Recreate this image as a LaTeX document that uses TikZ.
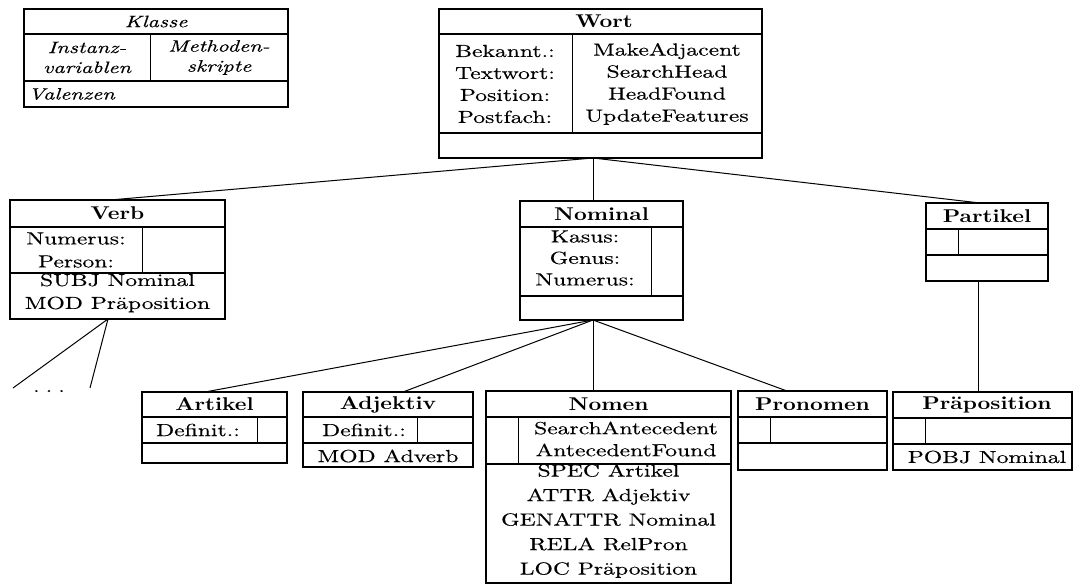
\documentclass[tikz,border=0pt]{standalone}
\usepackage{fontspec}
\setmainfont{lmroman10}[Extension=.otf, UprightFont=*-regular, BoldFont=*-bold, ItalicFont=*-italic, BoldItalicFont=*-bolditalic, FakeStretch=1.35, UprightFeatures={FakeBold=0.3}, ItalicFeatures={FakeBold=0.3}]
\newfontfamily\headfont{lmroman10-bold.otf}[FakeStretch=1.2]
\tikzset{
  box/.style={draw, line width=1.3pt, inner sep=0pt, outer sep=0pt, anchor=north west},
  sepline/.style={line width=1.2pt},
  divline/.style={line width=0.8pt},
  link/.style={line width=1pt},
  txt/.style={align=center, inner sep=0pt, font=\fontsize{17.5}{22}\selectfont},
  head/.style={align=center, inner sep=0pt, font=\fontsize{18.5}{22}\headfont},
  ktxt/.style={align=center, inner sep=0pt, font=\fontsize{16.5}{20}\selectfont\itshape},
}
\begin{document}
\begin{tikzpicture}[x=1pt,y=-1pt]
\useasboundingbox (0,0) rectangle (1074,585);

% ---------- Klasse (legend) ----------
\node[box, minimum width=264pt, minimum height=98pt] (klasse) at (24,9) {};
\draw[sepline] (24,34) -- (288,34) (24,81) -- (288,81);
\draw[divline] (150,34) -- (150,81);
\node[ktxt] (klasseH) at (156,21.5) {Klasse};
\node[ktxt] (klasseL) at (87,57.5) {Instanz-\\variablen};
\node[ktxt] (klasseR) at (219,57.5) {Methoden-\\skripte};
\node[ktxt, anchor=west] (klasseV) at (28,94) {Valenzen};

% ---------- Wort ----------
\node[box, minimum width=323pt, minimum height=149pt] (wort) at (439,9) {};
\draw[sepline] (439,34) -- (762,34) (439,133) -- (762,133);
\draw[divline] (572,34) -- (572,133);
\node[head] (wortH) at (604,21.5) {Wort};
\node[txt] (wortL) at (505,84) {Bekannt.:\\Textwort:\\Position:\\Postfach:};
\node[txt] (wortR) at (667,84) {MakeAdjacent\\SearchHead\\HeadFound\\UpdateFeatures};

% ---------- Verb ----------
\node[box, minimum width=215pt, minimum height=119pt] (verb) at (10,200) {};
\draw[sepline] (10,227) -- (225,227) (10,273) -- (225,273);
\draw[divline] (142,227) -- (142,273);
\node[head] (verbH) at (117.5,213.5) {Verb};
\node[txt, font=\fontsize{17.5}{23}\selectfont] (verbL) at (76,250) {Numerus:\\Person:};
\node[txt, font=\fontsize{17.5}{23}\selectfont] (verbV) at (117.5,293) {SUBJ Nominal\\MOD Präposition};

% ---------- Nominal ----------
\node[box, minimum width=163pt, minimum height=119pt] (nominal) at (520,201) {};
\draw[sepline] (520,227) -- (683,227) (520,296) -- (683,296);
\draw[divline] (651,227) -- (651,296);
\node[head] (nominalH) at (601.5,214) {Nominal};
\node[txt, font=\fontsize{17.5}{21.5}\selectfont] (nominalL) at (585,258) {Kasus:\\Genus:\\Numerus:};

% ---------- Partikel ----------
\node[box, minimum width=122pt, minimum height=78pt] (partikel) at (926,203) {};
\draw[sepline] (926,229) -- (1048,229) (926,255) -- (1048,255);
\draw[divline] (958,229) -- (958,255);
\node[head] (partikelH) at (987,216) {Partikel};

% ---------- Artikel ----------
\node[box, minimum width=145pt, minimum height=71pt] (artikel) at (142,392) {};
\draw[sepline] (142,417) -- (287,417) (142,443) -- (287,443);
\draw[divline] (257,417) -- (257,443);
\node[head] (artikelH) at (214.5,404.5) {Artikel};
\node[txt] (artikelL) at (198,430) {Definit.:};

% ---------- Adjektiv ----------
\node[box, minimum width=170pt, minimum height=75pt] (adjektiv) at (303,392) {};
\draw[sepline] (303,417) -- (473,417) (303,443) -- (473,443);
\draw[divline] (417,417) -- (417,443);
\node[head] (adjektivH) at (388,404.5) {Adjektiv};
\node[txt] (adjektivL) at (364,430) {Definit.:};
\node[txt] (adjektivV) at (388,456) {MOD Adverb};

% ---------- Nomen ----------
\node[box, minimum width=245pt, minimum height=192pt] (nomen) at (486,391) {};
\draw[sepline] (486,417) -- (731,417) (486,464) -- (731,464);
\draw[divline] (518,417) -- (518,464);
\node[head] (nomenH) at (608.5,404) {Nomen};
\node[txt] (nomenR) at (626,439) {SearchAntecedent\\AntecedentFound};
\node[txt, font=\fontsize{17.5}{24.5}\selectfont] (nomenV) at (608.5,521) {SPEC Artikel\\ATTR Adjektiv\\GENATTR Nominal\\RELA RelPron\\LOC Präposition};

% ---------- Pronomen ----------
\node[box, minimum width=149pt, minimum height=79pt] (pronomen) at (738,391) {};
\draw[sepline] (738,417) -- (887,417) (738,443) -- (887,443);
\draw[divline] (770,417) -- (770,443);
\node[head] (pronomenH) at (812.5,404) {Pronomen};

% ---------- Präposition ----------
\node[box, minimum width=179pt, minimum height=78pt] (praep) at (893,392) {};
\draw[sepline] (893,418) -- (1072,418) (893,444) -- (1072,444);
\draw[divline] (925,418) -- (925,444);
\node[head] (praepH) at (987,405) {Präposition};
\node[txt] (praepV) at (987,457) {POBJ Nominal};

% ---------- connectors ----------
\draw[link] ([xshift=-7.5pt]wort.south) -- ([xshift=-7.5pt]verb.north);
\draw[link] ([xshift=-7.5pt]wort.south) -- ([xshift=-8.5pt]nominal.north);
\draw[link] ([xshift=-7.5pt]wort.south) -- ([xshift=-7pt]partikel.north);
\draw[link] ([xshift=-8.5pt]nominal.south) -- ([xshift=-9.5pt]artikel.north);
\draw[link] ([xshift=-8.5pt]nominal.south) -- ([xshift=15pt]adjektiv.north);
\draw[link] ([xshift=-8.5pt]nominal.south) -- ([xshift=-15.5pt]nomen.north);
\draw[link] ([xshift=-8.5pt]nominal.south) -- ([xshift=-25.5pt]pronomen.north);
\draw[link] ([xshift=-9pt]partikel.south) -- ([xshift=-4.5pt]praep.north);

\coordinate (legA) at (13,388);
\coordinate (legB) at (90,388);
\draw[link] ([xshift=-9.5pt]verb.south) -- (legA);
\draw[link] ([xshift=-9.5pt]verb.south) -- (legB);
\node[txt, anchor=base] (dots) at (49,392) {.\hspace{6pt}.\hspace{6pt}.};
\end{tikzpicture}
\end{document}
